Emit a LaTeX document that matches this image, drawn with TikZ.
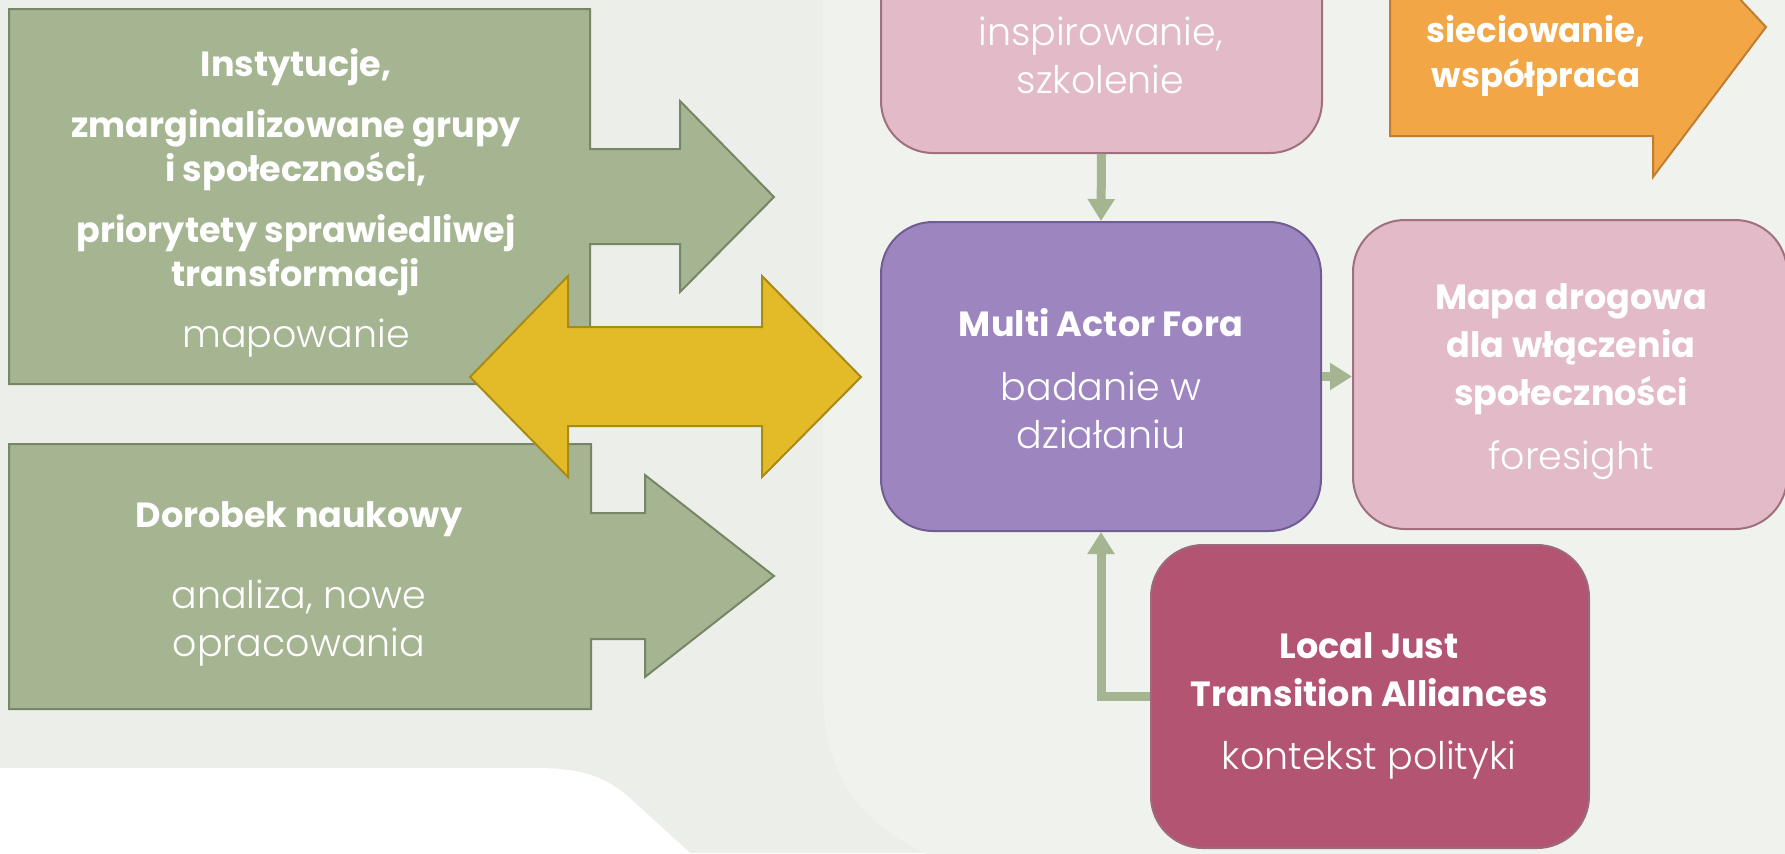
\documentclass[tikz,border=0pt]{standalone}
\usepackage{fontspec}
\setmainfont{Poppins}[UprightFont=* Light,BoldFont=* Bold]
\usetikzlibrary{arrows.meta}

\definecolor{bgpage}{HTML}{ECEFE9}
\definecolor{bglight}{HTML}{F0F2EE}
\definecolor{sage}{HTML}{A5B592}
\definecolor{sageline}{HTML}{768666}
\definecolor{gold}{HTML}{E3BA27}
\definecolor{goldline}{HTML}{A88A18}
\definecolor{rosefill}{HTML}{E2BAC8}
\definecolor{roseline}{HTML}{A0707F}
\definecolor{lilac}{HTML}{9D85BF}
\definecolor{lilacline}{HTML}{6F5E93}
\definecolor{berry}{HTML}{B45473}
\definecolor{berryline}{HTML}{9B6A7C}
\definecolor{apricot}{HTML}{F2A646}
\definecolor{apricotline}{HTML}{BF7E30}

\newcommand\boxhead{\fontsize{17.5}{24}\selectfont\bfseries}
\newcommand\boxbody{\fontsize{19}{24}\selectfont\mdseries}

\begin{document}
\begin{tikzpicture}
  [x=0.5pt,y=-0.5pt,
   card/.style={rectangle,rounded corners=26pt,line width=1pt},
   blockarrow/.style={line width=1pt,line join=miter},
   words/.style={text=white,align=center,inner sep=0pt,font=\boxbody},
   flow/.style={draw=sage,line width=4.5pt,-{Triangle[width=13pt,length=11pt]}}]
  \useasboundingbox (0,0) rectangle (1785,853);
  \clip (0,0) rectangle (1785,853);

  \fill[bgpage] (0,0) rectangle (1785,853);
  \fill[white] (0,768) -- (535,768) .. controls (585,768) and (608,778) .. (632,800) -- (690,853) -- (0,853) -- cycle;
  \fill[bglight] (823,-5) -- (823,690) .. controls (823,775) and (860,825) .. (935,858) -- (1790,858) -- (1790,-5) -- cycle;

  \filldraw[blockarrow,fill=sage,draw=sageline] (9,9) -- (590,9) -- (590,149) -- (680,149) -- (680,101) -- (774,197)
    -- (680,292) -- (680,244) -- (590,244) -- (590,384) -- (9,384) -- cycle;
  \filldraw[blockarrow,fill=sage,draw=sageline] (9,444) -- (591,444) -- (591,513) -- (645,513) -- (645,475) -- (774,576)
    -- (645,677) -- (645,639) -- (591,639) -- (591,709) -- (9,709) -- cycle;
  \filldraw[blockarrow,fill=gold,draw=goldline] (470,377) -- (568,276) -- (568,327) -- (762,327) -- (762,276) -- (861,377)
    -- (762,477) -- (762,426) -- (568,426) -- (568,477) -- cycle;
  \filldraw[blockarrow,fill=apricot,draw=apricotline] (1390,-20) -- (1390,136) -- (1653,136) -- (1653,177) -- (1766,27)
    -- (1722,-20) -- cycle;

  \node[card,fill=rosefill,draw=roseline,minimum width=220.5pt,minimum height=156.5pt] (inspire) at (1101.5,-3.5) {};
  \node[card,fill=lilac,draw=lilacline,minimum width=220pt,minimum height=154.5pt] (maf) at (1101,376.5) {};
  \node[card,fill=rosefill,draw=roseline,minimum width=217pt,minimum height=154.5pt] (mapa) at (1570,374.5) {};
  \node[card,fill=berry,draw=berryline,minimum width=219pt,minimum height=151.5pt] (ljta) at (1370,696.5) {};

  \draw[flow] (inspire.south) -- (maf.north);
  \draw[flow] (maf.east) -- (maf.east -| mapa.west);
  \draw[flow] (ljta.west) -| (maf.south);

  \node[words,font=\fontsize{19}{22}\selectfont] (sourcestext) at (296,202.5) {\boxhead Instytucje,\\[8.5pt]
    \boxhead zmarginalizowane grupy\\ \boxhead i społeczności,\\[8.5pt] \boxhead priorytety sprawiedliwej\\
    \boxhead transformacji\\[8.5pt] mapowanie};
  \node[words] (sciencetext) at (299,583.5) {\boxhead Dorobek naukowy\\[16.5pt] analiza, nowe\\ opracowania};
  \node[words] (inspiretext) at (1100.5,55.5) {inspirowanie,\\ szkolenie};
  \node[words,font=\fontsize{17}{22.5}\selectfont\bfseries] (networktext) at (1536,55.5) {sieciowanie,\\ współpraca};
  \node[words] (maftext) at (1101,379) {\boxhead Multi Actor Fora\\[8pt] badanie w\\ działaniu};
  \node[words] (mapatext) at (1571,381.5) {\boxhead Mapa drogowa\\ \boxhead dla włączenia\\
    \boxhead społeczności\\[8pt] foresight};
  \node[words] (ljtatext) at (1369,706) {\boxhead Local Just\\ \boxhead Transition Alliances\\[7.5pt] kontekst polityki};
\end{tikzpicture}
\end{document}
